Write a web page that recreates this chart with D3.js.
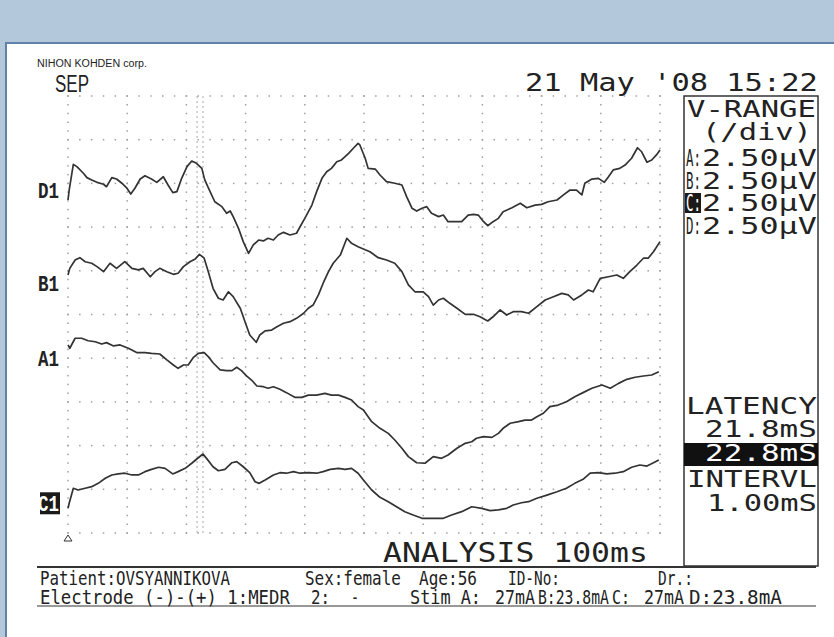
<!DOCTYPE html>
<html>
<head>
<meta charset="utf-8">
<script src="https://cdn.jsdelivr.net/npm/d3@7/dist/d3.min.js"></script>
<style>
  body { margin: 0; background: #fff; }
  svg { display: block; }
</style>
</head>
<body>
<div id="chart"></div>
<script>
// traces: [time ms, amplitude µV] (2.5 µV / div, 10 div)
const d1 = [[0,19.05],[0.2,19.62],[0.9,21.09],[1.5,20.96],[2.6,20.58],[3.2,20.33],[4.0,20.20],[4.9,20.06],[6.0,19.95],[6.5,19.81],[7.4,20.33],[8.2,20.25],[9.1,20.01],[9.9,19.75],[10.6,19.39],[11.3,19.72],[12.2,20.25],[13.0,20.44],[14.1,20.25],[15.0,20.06],[16.1,20.38],[16.9,19.91],[17.7,19.47],[18.4,19.53],[19.2,20.29],[20.1,20.96],[20.9,21.28],[21.7,21.15],[22.6,20.86],[23.1,20.20],[24.0,19.53],[24.8,18.95],[26.0,18.67],[26.8,18.29],[27.4,18.42],[27.9,18.10],[28.8,17.43],[29.6,16.67],[30.5,16.00],[31.3,16.48],[32.2,16.76],[33.0,16.71],[33.8,16.86],[34.7,16.76],[35.5,17.05],[36.4,17.20],[37.5,17.05],[38.6,17.15],[39.2,17.52],[40.0,18.00],[41.2,18.76],[42.0,19.53],[42.9,20.29],[43.7,20.67],[44.5,20.86],[45.4,21.24],[46.2,21.34],[47.4,21.72],[48.2,22.01],[49.0,22.29],[49.3,22.20],[50.2,21.44],[50.7,20.86],[51.9,20.82],[52.7,20.48],[53.8,20.10],[55.2,20.01],[56.4,19.91],[57.2,19.24],[58.1,18.58],[58.9,18.42],[59.8,18.58],[60.6,18.67],[61.4,18.29],[62.6,18.10],[63.4,18.19],[64.2,17.81],[65.4,17.81],[66.5,17.81],[67.6,18.19],[68.5,18.23],[69.3,18.19],[70.2,17.81],[70.9,17.58],[71.8,17.81],[72.7,18.00],[73.5,18.38],[75.0,18.61],[76.4,18.86],[77.5,18.61],[78.9,18.76],[80.0,18.80],[81.1,18.95],[82.6,19.05],[83.7,19.34],[84.8,19.62],[85.9,19.62],[86.8,19.34],[87.3,20.01],[88.5,20.25],[89.6,20.29],[90.6,20.06],[91.3,20.38],[92.1,20.77],[93.2,20.86],[94.1,21.05],[95.2,21.44],[96.2,22.04],[96.9,21.81],[97.8,21.21],[98.6,21.34],[99.4,21.63],[100,21.91]];

const b1 = [[0,14.76],[0.3,15.14],[1.2,15.62],[2.0,15.75],[2.9,15.52],[4.0,15.43],[4.9,15.24],[6.0,14.95],[7.1,15.43],[8.2,15.14],[9.6,15.52],[10.8,15.14],[11.9,15.05],[12.7,15.14],[13.9,14.66],[14.7,14.95],[15.5,15.14],[16.7,14.95],[17.8,14.80],[18.6,14.86],[19.5,15.24],[20.6,15.52],[21.5,15.68],[22.2,15.94],[23.0,15.72],[23.7,14.95],[24.5,14.00],[25.4,13.43],[26.2,13.33],[27.1,13.80],[27.9,13.52],[29.1,12.86],[29.9,12.09],[30.7,11.33],[31.8,10.91],[32.4,11.33],[33.3,11.56],[34.4,11.61],[35.3,11.80],[36.4,12.00],[37.5,12.09],[38.6,12.28],[39.8,12.57],[40.6,12.86],[41.4,13.04],[42.3,13.62],[43.1,14.29],[44.0,14.95],[44.8,15.43],[46.0,15.90],[47.1,16.86],[47.9,16.57],[49.0,16.38],[49.6,16.29],[51.0,16.09],[52.4,15.75],[53.8,15.62],[55.2,15.43],[56.4,14.95],[57.5,14.19],[58.6,13.80],[60.0,13.80],[60.9,13.52],[61.7,13.04],[62.6,13.33],[63.4,13.43],[64.5,13.14],[65.7,12.86],[67.1,12.51],[68.5,12.51],[69.6,12.37],[70.9,12.13],[71.8,12.37],[73.0,12.76],[74.1,12.47],[75.2,12.66],[76.6,12.66],[77.8,12.57],[79.2,12.95],[80.6,13.33],[82.0,13.52],[83.4,13.71],[84.5,13.62],[85.4,13.33],[86.8,13.62],[87.9,13.90],[88.7,13.80],[89.9,14.57],[91.3,14.66],[92.7,14.76],[93.8,14.57],[94.9,14.95],[96.1,15.33],[97.2,15.72],[98.0,15.72],[98.9,16.09],[100,16.67]];

const a1 = [[0,10.76],[0.3,10.57],[1.2,11.14],[2.3,11.14],[3.4,11.00],[4.6,10.94],[5.7,10.81],[6.5,10.89],[7.7,10.70],[8.8,10.76],[10.2,10.57],[11.6,10.32],[13.0,10.32],[14.1,10.28],[15.5,10.24],[16.7,9.90],[17.8,9.61],[18.6,9.42],[19.5,9.61],[20.3,9.61],[21.2,10.05],[22.0,10.28],[23.0,10.32],[23.7,10.09],[24.5,9.74],[25.7,9.33],[26.8,9.29],[27.7,9.29],[28.5,9.48],[29.3,9.29],[30.2,8.98],[31.0,8.75],[31.9,8.41],[33.0,8.37],[33.8,8.28],[34.7,8.37],[35.8,8.22],[36.9,8.03],[38.3,7.76],[39.5,7.76],[40.6,7.89],[42.0,7.89],[43.4,7.99],[44.5,7.89],[45.7,7.89],[46.8,7.76],[47.9,7.61],[49.0,7.23],[49.9,7.04],[51.3,6.37],[52.7,5.99],[54.1,5.70],[55.2,5.32],[56.4,4.85],[57.5,4.37],[58.9,4.02],[60.3,3.99],[61.7,4.37],[63.1,4.27],[64.2,4.46],[65.7,4.85],[67.1,5.13],[68.2,5.22],[69.0,5.42],[70.2,5.51],[71.6,5.47],[72.7,5.70],[73.5,5.99],[74.7,6.28],[76.1,6.37],[77.2,6.46],[78.3,6.46],[79.2,6.65],[80.3,6.85],[81.4,7.23],[82.8,7.32],[84.2,7.51],[85.6,7.80],[87.0,8.03],[88.5,8.28],[90.2,8.47],[91.6,8.28],[93.0,8.56],[94.4,8.79],[95.8,8.91],[97.2,8.98],[98.6,9.04],[99.8,9.23]];

const c1 = [[0,1.41],[0.2,1.70],[0.9,2.56],[1.7,2.46],[2.9,2.56],[4.0,2.65],[5.1,2.84],[6.3,3.13],[7.4,3.32],[8.5,3.38],[9.6,3.42],[10.8,3.32],[11.9,3.32],[13.0,3.51],[14.1,3.64],[15.3,3.76],[16.4,3.70],[17.7,3.38],[18.6,3.51],[19.8,3.70],[20.9,3.99],[21.7,4.22],[22.8,4.52],[23.4,4.27],[24.5,3.79],[25.4,3.56],[26.5,3.64],[27.7,4.02],[28.5,4.08],[29.6,3.79],[30.7,3.45],[31.6,2.93],[32.3,2.84],[33.3,3.03],[34.7,3.32],[35.8,3.45],[36.9,3.42],[38.1,3.51],[39.2,3.42],[40.6,3.45],[42.0,3.42],[43.1,3.51],[44.3,3.64],[45.7,3.70],[46.8,3.64],[47.9,3.70],[49.0,3.42],[49.9,3.03],[51.3,2.46],[52.7,2.04],[54.1,1.79],[55.5,1.50],[56.9,1.22],[58.3,1.03],[59.8,0.84],[61.4,0.84],[63.4,0.84],[64.8,1.03],[66.5,1.22],[68.2,1.50],[69.9,1.41],[71.3,1.28],[72.7,1.32],[74.1,1.41],[75.2,1.60],[76.6,1.73],[77.8,1.79],[79.2,1.99],[80.9,2.17],[82.6,2.36],[84.2,2.56],[85.6,2.84],[87.0,3.07],[88.2,3.42],[89.6,3.45],[91.0,3.38],[92.4,3.42],[93.8,3.51],[95.2,3.76],[96.6,3.89],[97.8,3.83],[98.9,4.02],[99.8,4.18]];

const traceNames = ["D1", "B1", "A1", "C1"];
const traceLabelY = [19.6, 14.3, 10.0, 1.7];   // µV where each channel label sits
const cursorTimes = [21.8, 22.8];
const vRangeRows = ["A:", "B:", "C:", "D:"];
const vRangeValue = "2.50µV";
const latencyRows = ["21.8mS", "22.8mS"];
const intervalValue = "1.00mS";
const analysisText = "ANALYSIS 100ms";
const headerTitle = "SEP";
const headerMaker = "NIHON KOHDEN corp.";
const headerDate = "21 May '08 15:22";
const infoRow1 = [["Patient:OVSYANNIKOVA", 40, 190], ["Sex:female", 305, 96], ["Age:56", 419, 58], ["ID-No:", 508, 52], ["Dr.:", 658, 35]];
const infoRow2 = [["Electrode (-)-(+) 1:MEDR", 40, 250], ["2:", 311, 19], ["-", 351, 8], ["Stim A:", 410, 71], ["27mA", 495, 40], ["B:23.8mA", 538, 71], ["C:", 612, 18], ["27mA", 644, 40], ["D:23.8mA", 689, 93]];

(() => {
  const W = 834, H = 637;
  const mono = "'DejaVu Sans Mono', monospace";
  const sans = "'Liberation Sans', 'DejaVu Sans', sans-serif";
  const ink = "#222";

  const svg = d3.select("#chart").append("svg")
    .attr("width", W).attr("height", H);

  // squeeze/stretch a text horizontally into a given width
  function fit(parent, str, x0, base, width, size, family, fill) {
    const t = parent.append("text")
      .attr("font-family", family).attr("font-size", size)
      .attr("fill", fill || ink).text(str);
    const natural = t.node().getComputedTextLength();
    t.attr("transform", `translate(${x0},${base}) scale(${width / natural},1)`);
    return t;
  }

  // page frame (scan background)
  svg.append("rect").attr("width", W).attr("height", H).attr("fill", "#b4c8dc");
  svg.append("rect").attr("x", 7).attr("y", 44).attr("width", W - 7).attr("height", H - 44).attr("fill", "#fff");
  svg.append("path").attr("d", `M6,${H} V43 H${W}`).attr("fill", "none")
    .attr("stroke", "#5f83a6").attr("stroke-width", 2);

  const x = d3.scaleLinear().domain([0, 100]).range([68, 660]);
  const y = d3.scaleLinear().domain([0, 25]).range([533, 96]);

  // dotted grid: major every 10 ms / 2.5 µV, dots every 2 ms / 0.5 µV
  const grid = svg.append("g").attr("fill", "#a0a0a0");
  const xMajor = d3.range(0, 101, 10), yMajor = d3.range(0, 25.01, 2.5);
  const xMinor = d3.range(0, 100.01, 2), yMinor = d3.range(0, 25.01, 0.5);
  yMajor.forEach(v => {
    grid.selectAll(null).data(xMinor).join("rect")
      .attr("x", d => x(d) - 0.75).attr("y", y(v) - 0.75)
      .attr("width", 1.5).attr("height", 1.5);
  });
  xMajor.forEach(t => {
    grid.selectAll(null).data(yMinor).join("rect")
      .attr("x", x(t) - 0.75).attr("y", d => y(d) - 0.75)
      .attr("width", 1.5).attr("height", 1.5);
  });

  // latency cursors
  svg.append("g").selectAll("line").data(cursorTimes).join("line")
    .attr("x1", d => x(d)).attr("x2", d => x(d))
    .attr("y1", y(25)).attr("y2", y(0))
    .attr("stroke", "#aaa").attr("stroke-width", 1)
    .attr("stroke-dasharray", "2,3");

  // traces
  const line = d3.line().x(d => x(d[0])).y(d => y(d[1]));
  svg.append("g").selectAll("path").data([d1, b1, a1, c1]).join("path")
    .attr("d", line)
    .attr("fill", "none")
    .attr("stroke", "#333")
    .attr("stroke-width", 1.7)
    .attr("stroke-linejoin", "round");

  // channel labels
  traceNames.forEach((name, i) => {
    const cy = y(traceLabelY[i]);
    if (name === "C1") {
      svg.append("rect").attr("x", 40).attr("y", cy - 11).attr("width", 20).attr("height", 22).attr("fill", "#1a1a1a");
    }
    fit(svg, name, 38, cy + 8, 21, 22, "'Liberation Mono', monospace", name === "C1" ? "#fff" : ink)
      .attr("font-weight", "bold");
  });

  // stimulus marker
  svg.append("path")
    .attr("d", `M${x(0)},${y(0) + 2} l-4,6 h8 z`)
    .attr("fill", "none").attr("stroke", "#333").attr("stroke-width", 1);

  // header
  fit(svg, headerMaker, 37, 67, 110, 11, sans);
  fit(svg, headerTitle, 55, 92, 34, 24, sans);
  fit(svg, headerDate, 525, 91, 293, 24, mono);

  // right panel
  svg.append("rect").attr("x", 684).attr("y", 96).attr("width", 134).attr("height", 470)
    .attr("fill", "none").attr("stroke", "#333").attr("stroke-width", 1.5);
  const panel = svg.append("g");
  const pSize = 23;

  fit(panel, "V-RANGE", 687, 117, 129, pSize, mono);
  fit(panel, "(/div)", 702, 140, 110, pSize, mono);
  vRangeRows.forEach((r, i) => {
    const by = 166 + i * 22.5;
    const hot = r === "C:";
    if (hot) panel.append("rect").attr("x", 685).attr("y", by - 18).attr("width", 16).attr("height", 20).attr("fill", "#1a1a1a");
    fit(panel, r, 686, by, 15, pSize, mono, hot ? "#fff" : ink);
    fit(panel, vRangeValue, 702, by, 115, pSize, mono);
  });

  fit(panel, "LATENCY", 686, 414, 131, pSize, mono);
  fit(panel, latencyRows[0], 705, 437, 112, pSize, mono);
  panel.append("rect").attr("x", 684).attr("y", 443).attr("width", 134).attr("height", 23).attr("fill", "#111");
  fit(panel, latencyRows[1], 705, 461, 112, pSize, mono, "#fff");
  fit(panel, "INTERVL", 687, 487, 130, pSize, mono);
  fit(panel, intervalValue, 707, 511, 110, pSize, mono);

  // footer
  fit(svg, analysisText, 383, 562, 265, 26, mono);

  svg.append("line").attr("x1", 37).attr("x2", 816).attr("y1", 567).attr("y2", 567)
    .attr("stroke", "#333").attr("stroke-width", 2);
  svg.append("line").attr("x1", 37).attr("x2", 816).attr("y1", 606).attr("y2", 606)
    .attr("stroke", "#333").attr("stroke-width", 1.2);

  const info = svg.append("g");
  [[infoRow1, 585], [infoRow2, 604]].forEach(([row, by]) => {
    row.forEach(d => fit(info, d[0], d[1], by, d[2], 19, mono));
  });
})();
</script>
</body>
</html>
